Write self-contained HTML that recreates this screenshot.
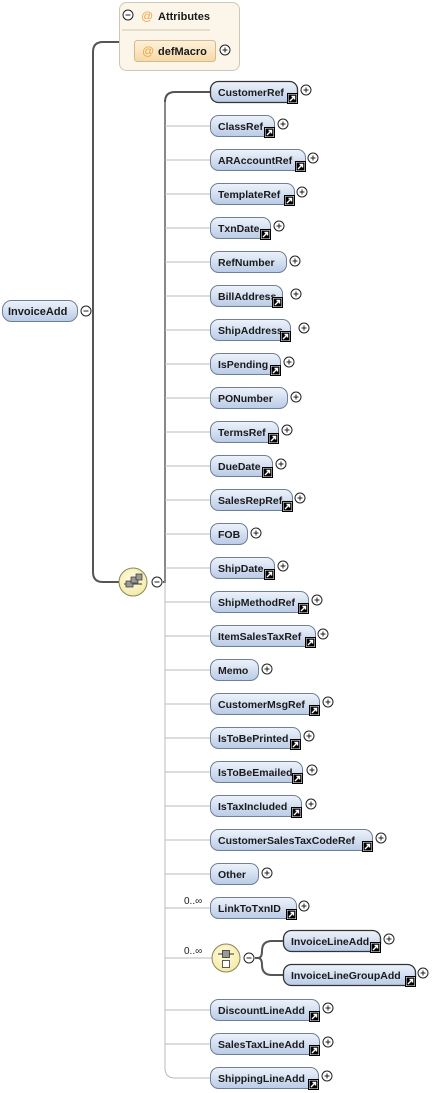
<!DOCTYPE html>
<html><head><meta charset="utf-8"><style>
html,body{margin:0;padding:0;background:#fff;width:447px;height:1093px;overflow:hidden}
svg{display:block}
text{font-family:"Liberation Sans",sans-serif;font-size:10.5px;font-weight:bold;fill:#1a1a1a}
</style></head><body>
<svg width="447" height="1093" viewBox="0 0 447 1093" xmlns="http://www.w3.org/2000/svg">
<defs>
<linearGradient id="g" x1="0" y1="0" x2="0" y2="1"><stop offset="0" stop-color="#eef3fb"/><stop offset="1" stop-color="#b9cbe6"/></linearGradient>
<linearGradient id="o" x1="0" y1="0" x2="0" y2="1"><stop offset="0" stop-color="#fdf2dc"/><stop offset="1" stop-color="#f6d9a6"/></linearGradient>
<radialGradient id="y" cx="0.45" cy="0.4" r="0.6"><stop offset="0" stop-color="#fffde0"/><stop offset="1" stop-color="#f4eaa8"/></radialGradient>
<symbol id="lk" viewBox="0 0 11 11"><rect x="0.5" y="0.5" width="10" height="10" fill="#fff" stroke="#000"/><rect x="1.5" y="1.5" width="8" height="8" fill="#000"/><path d="M3 8 L7.5 3.5 M4.5 3.5 H7.5 V6.5" stroke="#fff" stroke-width="1.4" fill="none"/></symbol>
<symbol id="pl" viewBox="0 0 12 12"><circle cx="6" cy="6" r="5" fill="#fff" stroke="#222"/><path d="M3.5 6H8.5M6 3.5V8.5" stroke="#222"/></symbol>
<symbol id="mn" viewBox="0 0 12 12"><circle cx="6" cy="6" r="5" fill="#fff" stroke="#222"/><path d="M3.5 6H8.5" stroke="#222"/></symbol>
</defs>

<rect x="119.5" y="2.5" width="120" height="68" rx="7" fill="#fcf6ea" stroke="#cfc6b6"/>
<line x1="122" y1="30" x2="210" y2="30" stroke="#e6ddcc" stroke-width="2"/>
<use href="#mn" x="122" y="9" width="12" height="12"/>
<text x="141" y="20" style="fill:#f0a640;font-size:12px;font-weight:normal">@</text>
<text x="158" y="20" style="font-size:11px">Attributes</text>
<rect x="134.5" y="40.5" width="81" height="21" rx="3" fill="url(#o)" stroke="#d9b98a"/>
<text x="142" y="55" style="fill:#f0a640;font-size:12px;font-weight:normal">@</text>
<text x="158" y="55" style="font-size:11px">defMacro</text>
<use href="#pl" x="219" y="44" width="12" height="12"/>

<rect x="2.5" y="300.5" width="75" height="21" rx="9" fill="url(#g)" stroke="#6f7f97"/>
<text x="8" y="315" style="font-size:11px">InvoiceAdd</text>
<use href="#mn" x="80" y="305" width="12" height="12"/>
<path d="M92 311 H93 M93 52 Q93 42 103 42 H119 M93 52 V572 Q93 582 103 582 H120" stroke="#555" stroke-width="2" fill="none"/>

<circle cx="133" cy="582" r="14" fill="url(#y)" stroke="#8a8560"/>
<path d="M124 584 H142" stroke="#333"/>
<rect x="126" y="581" width="7" height="6" fill="#999" stroke="#333" stroke-width="0.7"/>
<rect x="131" y="577" width="7" height="6" fill="#999" stroke="#333" stroke-width="0.7"/>
<rect x="136" y="574" width="6" height="6" fill="#999" stroke="#333" stroke-width="0.7"/>
<use href="#mn" x="151" y="576" width="12" height="12"/>
<path d="M163 582 H165 V102 Q165 92 175 92 H210" stroke="#555" stroke-width="2" fill="none"/>
<path d="M165 102 V1068 Q165 1078 175 1078 H210" stroke="#bbb" stroke-width="1" fill="none"/>
<g stroke="#bbb" stroke-width="1">
<path d="M165 126H210M165 160H210M165 194H210M165 228H210M165 262H210M165 296H210M165 330H210M165 364H210M165 398H210M165 432H210M165 466H210M165 500H210M165 534H210M165 568H210M165 602H210M165 636H210M165 670H210M165 704H210M165 738H210M165 772H210M165 806H210M165 840H210M165 874H210M165 908H210M165 958H212M165 1010H210M165 1044H210"/>
</g>

<g stroke="#6f7f97" fill="url(#g)">
<rect x="210.5" y="81.5" width="87" height="21" rx="8" stroke="#333" stroke-width="1.3"/>
<rect x="210.5" y="115.5" width="64" height="21" rx="8"/>
<rect x="210.5" y="149.5" width="95" height="21" rx="8"/>
<rect x="210.5" y="183.5" width="84" height="21" rx="8"/>
<rect x="210.5" y="217.5" width="60" height="21" rx="8"/>
<rect x="210.5" y="251.5" width="76" height="21" rx="8"/>
<rect x="210.5" y="285.5" width="72" height="21" rx="8"/>
<rect x="210.5" y="319.5" width="80" height="21" rx="8"/>
<rect x="210.5" y="353.5" width="70" height="21" rx="8"/>
<rect x="210.5" y="387.5" width="77" height="21" rx="8"/>
<rect x="210.5" y="421.5" width="68" height="21" rx="8"/>
<rect x="210.5" y="455.5" width="62" height="21" rx="8"/>
<rect x="210.5" y="489.5" width="82" height="21" rx="8"/>
<rect x="210.5" y="523.5" width="37" height="21" rx="8"/>
<rect x="210.5" y="557.5" width="64" height="21" rx="8"/>
<rect x="210.5" y="591.5" width="98" height="21" rx="8"/>
<rect x="210.5" y="625.5" width="105" height="21" rx="8"/>
<rect x="210.5" y="659.5" width="48" height="21" rx="8"/>
<rect x="210.5" y="693.5" width="109" height="21" rx="8"/>
<rect x="210.5" y="727.5" width="90" height="21" rx="8"/>
<rect x="210.5" y="761.5" width="92" height="21" rx="8"/>
<rect x="210.5" y="795.5" width="91" height="21" rx="8"/>
<rect x="210.5" y="829.5" width="162" height="21" rx="8"/>
<rect x="210.5" y="863.5" width="48" height="21" rx="8"/>
<rect x="210.5" y="897.5" width="86" height="21" rx="8"/>
<rect x="210.5" y="999.5" width="109" height="21" rx="8"/>
<rect x="210.5" y="1033.5" width="109" height="21" rx="8"/>
<rect x="210.5" y="1067.5" width="108" height="21" rx="8"/>
<rect x="283.5" y="930.5" width="97" height="21" rx="8" stroke="#333" stroke-width="1.3"/>
<rect x="283.5" y="964.5" width="132" height="21" rx="8" stroke="#333" stroke-width="1.3"/>
</g>

<g>
<text x="218" y="96">CustomerRef</text>
<text x="218" y="130">ClassRef</text>
<text x="218" y="164">ARAccountRef</text>
<text x="218" y="198">TemplateRef</text>
<text x="218" y="232">TxnDate</text>
<text x="218" y="266">RefNumber</text>
<text x="218" y="300">BillAddress</text>
<text x="218" y="334">ShipAddress</text>
<text x="218" y="368">IsPending</text>
<text x="218" y="402">PONumber</text>
<text x="218" y="436">TermsRef</text>
<text x="218" y="470">DueDate</text>
<text x="218" y="504">SalesRepRef</text>
<text x="218" y="538">FOB</text>
<text x="218" y="572">ShipDate</text>
<text x="218" y="606">ShipMethodRef</text>
<text x="218" y="640">ItemSalesTaxRef</text>
<text x="218" y="674">Memo</text>
<text x="218" y="708">CustomerMsgRef</text>
<text x="218" y="742">IsToBePrinted</text>
<text x="218" y="776">IsToBeEmailed</text>
<text x="218" y="810">IsTaxIncluded</text>
<text x="218" y="844">CustomerSalesTaxCodeRef</text>
<text x="218" y="878">Other</text>
<text x="218" y="912">LinkToTxnID</text>
<text x="218" y="1014">DiscountLineAdd</text>
<text x="218" y="1048">SalesTaxLineAdd</text>
<text x="218" y="1082">ShippingLineAdd</text>
<text x="291" y="945">InvoiceLineAdd</text>
<text x="291" y="979">InvoiceLineGroupAdd</text>
<text x="184" y="904" style="font-size:10px;font-weight:normal">0..∞</text>
<text x="184" y="954" style="font-size:10px;font-weight:normal">0..∞</text>
</g>

<use href="#lk" x="287" y="93" width="11" height="11"/>
<use href="#lk" x="264" y="127" width="11" height="11"/>
<use href="#lk" x="295" y="161" width="11" height="11"/>
<use href="#lk" x="284" y="195" width="11" height="11"/>
<use href="#lk" x="260" y="229" width="11" height="11"/>
<use href="#lk" x="272" y="297" width="11" height="11"/>
<use href="#lk" x="280" y="331" width="11" height="11"/>
<use href="#lk" x="270" y="365" width="11" height="11"/>
<use href="#lk" x="268" y="433" width="11" height="11"/>
<use href="#lk" x="262" y="467" width="11" height="11"/>
<use href="#lk" x="282" y="501" width="11" height="11"/>
<use href="#lk" x="264" y="569" width="11" height="11"/>
<use href="#lk" x="298" y="603" width="11" height="11"/>
<use href="#lk" x="305" y="637" width="11" height="11"/>
<use href="#lk" x="309" y="705" width="11" height="11"/>
<use href="#lk" x="290" y="739" width="11" height="11"/>
<use href="#lk" x="292" y="773" width="11" height="11"/>
<use href="#lk" x="291" y="807" width="11" height="11"/>
<use href="#lk" x="362" y="841" width="11" height="11"/>
<use href="#lk" x="286" y="909" width="11" height="11"/>
<use href="#lk" x="309" y="1011" width="11" height="11"/>
<use href="#lk" x="309" y="1045" width="11" height="11"/>
<use href="#lk" x="308" y="1079" width="11" height="11"/>
<use href="#lk" x="370" y="942" width="11" height="11"/>
<use href="#lk" x="405" y="976" width="11" height="11"/>

<use href="#pl" x="300" y="84" width="12" height="12"/>
<use href="#pl" x="277" y="118" width="12" height="12"/>
<use href="#pl" x="307" y="152" width="12" height="12"/>
<use href="#pl" x="296" y="186" width="12" height="12"/>
<use href="#pl" x="273" y="220" width="12" height="12"/>
<use href="#pl" x="289" y="255" width="12" height="12"/>
<use href="#pl" x="290" y="288" width="12" height="12"/>
<use href="#pl" x="298" y="322" width="12" height="12"/>
<use href="#pl" x="283" y="356" width="12" height="12"/>
<use href="#pl" x="290" y="391" width="12" height="12"/>
<use href="#pl" x="281" y="424" width="12" height="12"/>
<use href="#pl" x="275" y="458" width="12" height="12"/>
<use href="#pl" x="294" y="492" width="12" height="12"/>
<use href="#pl" x="250" y="527" width="12" height="12"/>
<use href="#pl" x="277" y="560" width="12" height="12"/>
<use href="#pl" x="311" y="594" width="12" height="12"/>
<use href="#pl" x="317" y="628" width="12" height="12"/>
<use href="#pl" x="261" y="663" width="12" height="12"/>
<use href="#pl" x="322" y="696" width="12" height="12"/>
<use href="#pl" x="303" y="730" width="12" height="12"/>
<use href="#pl" x="306" y="764" width="12" height="12"/>
<use href="#pl" x="305" y="798" width="12" height="12"/>
<use href="#pl" x="375" y="832" width="12" height="12"/>
<use href="#pl" x="261" y="867" width="12" height="12"/>
<use href="#pl" x="298" y="900" width="12" height="12"/>
<use href="#pl" x="322" y="1002" width="12" height="12"/>
<use href="#pl" x="322" y="1036" width="12" height="12"/>
<use href="#pl" x="321" y="1070" width="12" height="12"/>
<use href="#pl" x="383" y="933" width="12" height="12"/>
<use href="#pl" x="417" y="967" width="12" height="12"/>

<circle cx="226" cy="958" r="14" fill="url(#y)" stroke="#8a8560"/>
<path d="M218 954 H234" stroke="#333"/>
<rect x="222.5" y="950.5" width="7" height="7" fill="#999" stroke="#333" stroke-width="0.8"/>
<rect x="222.5" y="960.5" width="7" height="7" fill="#fff" stroke="#333" stroke-width="0.8"/>
<use href="#mn" x="243" y="952" width="12" height="12"/>
<path d="M255 958 H258 M258 958 Q262 958 262 951 Q262 941 272 941 H283 M258 958 Q262 958 262 965 Q262 975 272 975 H283" stroke="#555" stroke-width="2" fill="none"/>
</svg>
</body></html>
